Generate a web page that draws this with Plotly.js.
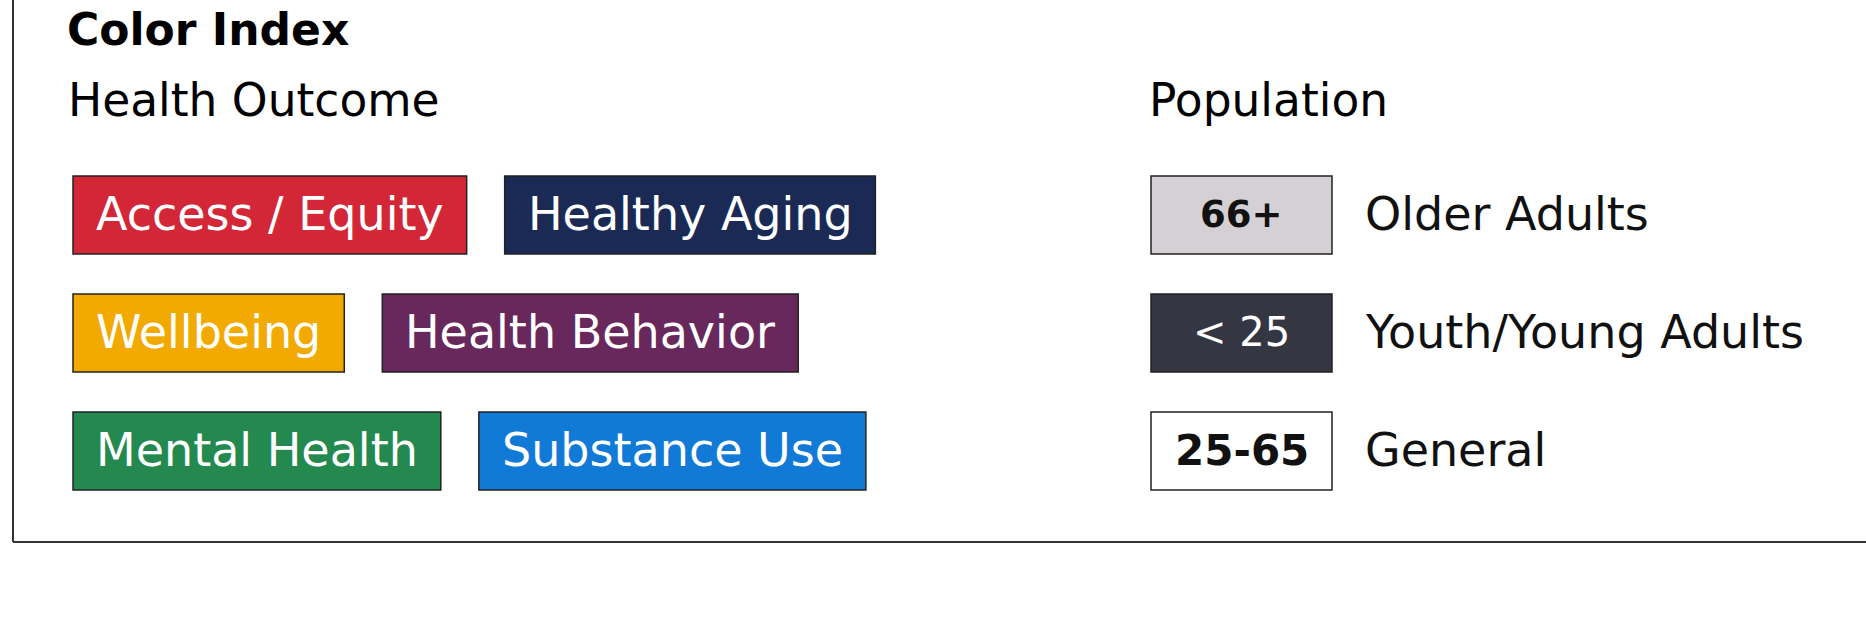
<!DOCTYPE html>
<html>
<head>
<meta charset="utf-8">
<script src="https://cdn.plot.ly/plotly-3.0.1.min.js"></script>
<style>
html,body{margin:0;padding:0;background:#ffffff;}
#chart{width:1866px;height:627px;}
</style>
</head>
<body>
<div id="chart"></div>
<script>
// ---- content ----
const chartTitle = "Color Index";
const outcomeHeader = "Health Outcome";
const populationHeader = "Population";
const outcomeLabels = ["Access / Equity", "Healthy Aging", "Wellbeing", "Health Behavior", "Mental Health", "Substance Use"];
const populationCodes = ["66+", "< 25", "25-65"];
const populationNames = ["Older Adults", "Youth/Young Adults", "General"];

// ---- styles ----
const outcomeColors = {
  "Access / Equity": "#d32737",
  "Healthy Aging": "#1b2a55",
  "Wellbeing": "#f2a900",
  "Health Behavior": "#69285c",
  "Mental Health": "#23894f",
  "Substance Use": "#117ad6"
};
const populationStyles = {
  "66+":   {fill: "#d5d0d4", text: "#111111", weight: 700, size: 37},
  "< 25":  {fill: "#343642", text: "#ffffff", weight: 500, size: 40},
  "25-65": {fill: "#ffffff", text: "#111111", weight: 700, size: 42}
};

// ---- layout constants ----
const W = 1866, H = 627;
const FONT = "DejaVu Sans";
const boxFont = 46, labelFont = 46, headerFont = 45.5, titleFont = 44;
const padX = 23, gapX = 38, boxH = 78;
const rowTop0 = 176, rowStep = 118;
const outcomeX0 = 73, perRow = 2;
const popBoxX0 = 1151, popBoxW = 181, popLabelX = 1363, popHeaderX = 1147;
const frameLeft = 13, frameBottom = 542;
const borderCol = "#222222";

function measure(text, size, weight) {
  const c = document.createElement("canvas").getContext("2d");
  c.font = `${weight} ${size}px "${FONT}"`;
  return c.measureText(text).width;
}
function esc(t) { return t.replace(/&/g, "&amp;").replace(/</g, "&lt;").replace(/>/g, "&gt;"); }

const shapes = [];
const annotations = [];

// frame (left and bottom edges visible)
shapes.push({type: "line", xref: "x", yref: "y", x0: frameLeft, x1: frameLeft, y0: -5, y1: frameBottom, line: {color: "#333333", width: 2}});
shapes.push({type: "line", xref: "x", yref: "y", x0: frameLeft, x1: W + 5, y0: frameBottom, y1: frameBottom, line: {color: "#333333", width: 2}});

// title + headers
annotations.push({x: 65, y: 29, xref: "x", yref: "y", xanchor: "left", yanchor: "middle", showarrow: false,
  text: chartTitle, font: {family: FONT, size: titleFont, weight: 700, color: "#000000"}});
annotations.push({x: 66, y: 100, xref: "x", yref: "y", xanchor: "left", yanchor: "middle", showarrow: false,
  text: outcomeHeader, font: {family: FONT, size: headerFont, weight: 500, color: "#000000"}});
annotations.push({x: popHeaderX, y: 100, xref: "x", yref: "y", xanchor: "left", yanchor: "middle", showarrow: false,
  text: populationHeader, font: {family: FONT, size: headerFont, weight: 500, color: "#000000"}});

// outcome boxes, flowed in rows
let cursorX = outcomeX0;
outcomeLabels.forEach((lab, i) => {
  const row = Math.floor(i / perRow);
  if (i % perRow === 0) cursorX = outcomeX0;
  const w = measure(lab, boxFont, 400) + 2 * padX;
  const top = rowTop0 + row * rowStep;
  shapes.push({type: "rect", xref: "x", yref: "y", x0: cursorX, x1: cursorX + w, y0: top, y1: top + boxH,
    fillcolor: outcomeColors[lab], line: {color: borderCol, width: 1.5}, layer: "below"});
  annotations.push({x: cursorX + w / 2, y: top + boxH / 2 - 1, xref: "x", yref: "y", xanchor: "center", yanchor: "middle",
    showarrow: false, text: esc(lab), font: {family: FONT, size: boxFont, color: "#ffffff"}});
  cursorX += w + gapX;
});

// population boxes
populationCodes.forEach((code, i) => {
  const st = populationStyles[code];
  const top = rowTop0 + i * rowStep;
  shapes.push({type: "rect", xref: "x", yref: "y", x0: popBoxX0, x1: popBoxX0 + popBoxW, y0: top, y1: top + boxH,
    fillcolor: st.fill, line: {color: borderCol, width: 1.5}, layer: "below"});
  annotations.push({x: popBoxX0 + popBoxW / 2, y: top + boxH / 2 - 1, xref: "x", yref: "y", xanchor: "center", yanchor: "middle",
    showarrow: false, text: esc(code), font: {family: FONT, size: st.size, weight: st.weight, color: st.text}});
  annotations.push({x: popLabelX, y: top + boxH / 2 - 1, xref: "x", yref: "y", xanchor: "left", yanchor: "middle",
    showarrow: false, text: esc(populationNames[i]), font: {family: FONT, size: labelFont, color: "#111111"}});
});

const layout = {
  width: W, height: H,
  margin: {l: 0, r: 0, t: 0, b: 0, pad: 0},
  paper_bgcolor: "#ffffff", plot_bgcolor: "#ffffff",
  showlegend: false,
  xaxis: {range: [0, W], visible: false, fixedrange: true},
  yaxis: {range: [H, 0], visible: false, fixedrange: true},
  shapes: shapes,
  annotations: annotations
};

Plotly.newPlot("chart", [], layout, {staticPlot: true, displayModeBar: false});
</script>
</body>
</html>
